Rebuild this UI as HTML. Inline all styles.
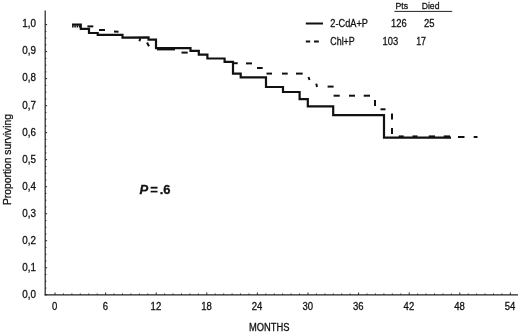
<!DOCTYPE html>
<html><head><meta charset="utf-8"><title>Survival</title>
<style>
html,body{margin:0;padding:0;background:#fff;}
svg{display:block;font-family:"Liberation Sans",Arial,sans-serif;fill:#111;}
text{stroke:#111;stroke-width:0.28px;}
</style></head><body>
<svg width="520" height="333" viewBox="0 0 520 333">
<rect width="520" height="333" fill="#fff"/>

<g stroke="#222" stroke-width="1.2" fill="none">
<line x1="45.2" y1="10.5" x2="45.2" y2="295.3"/>
<line x1="44.6" y1="294.8" x2="518" y2="294.8"/>
</g>
<g stroke="#222" stroke-width="1" fill="none">
<line x1="45.2" y1="294.80" x2="47.10" y2="294.80"/>
<line x1="45.2" y1="288.05" x2="46.40" y2="288.05"/>
<line x1="45.2" y1="281.29" x2="46.40" y2="281.29"/>
<line x1="45.2" y1="274.54" x2="46.40" y2="274.54"/>
<line x1="45.2" y1="267.78" x2="47.10" y2="267.78"/>
<line x1="45.2" y1="261.03" x2="46.40" y2="261.03"/>
<line x1="45.2" y1="254.27" x2="46.40" y2="254.27"/>
<line x1="45.2" y1="247.52" x2="46.40" y2="247.52"/>
<line x1="45.2" y1="240.76" x2="47.10" y2="240.76"/>
<line x1="45.2" y1="234.01" x2="46.40" y2="234.01"/>
<line x1="45.2" y1="227.25" x2="46.40" y2="227.25"/>
<line x1="45.2" y1="220.50" x2="46.40" y2="220.50"/>
<line x1="45.2" y1="213.74" x2="47.10" y2="213.74"/>
<line x1="45.2" y1="206.99" x2="46.40" y2="206.99"/>
<line x1="45.2" y1="200.23" x2="46.40" y2="200.23"/>
<line x1="45.2" y1="193.48" x2="46.40" y2="193.48"/>
<line x1="45.2" y1="186.72" x2="47.10" y2="186.72"/>
<line x1="45.2" y1="179.97" x2="46.40" y2="179.97"/>
<line x1="45.2" y1="173.21" x2="46.40" y2="173.21"/>
<line x1="45.2" y1="166.46" x2="46.40" y2="166.46"/>
<line x1="45.2" y1="159.70" x2="47.10" y2="159.70"/>
<line x1="45.2" y1="152.95" x2="46.40" y2="152.95"/>
<line x1="45.2" y1="146.19" x2="46.40" y2="146.19"/>
<line x1="45.2" y1="139.44" x2="46.40" y2="139.44"/>
<line x1="45.2" y1="132.68" x2="47.10" y2="132.68"/>
<line x1="45.2" y1="125.93" x2="46.40" y2="125.93"/>
<line x1="45.2" y1="119.17" x2="46.40" y2="119.17"/>
<line x1="45.2" y1="112.42" x2="46.40" y2="112.42"/>
<line x1="45.2" y1="105.66" x2="47.10" y2="105.66"/>
<line x1="45.2" y1="98.91" x2="46.40" y2="98.91"/>
<line x1="45.2" y1="92.15" x2="46.40" y2="92.15"/>
<line x1="45.2" y1="85.40" x2="46.40" y2="85.40"/>
<line x1="45.2" y1="78.64" x2="47.10" y2="78.64"/>
<line x1="45.2" y1="71.88" x2="46.40" y2="71.88"/>
<line x1="45.2" y1="65.13" x2="46.40" y2="65.13"/>
<line x1="45.2" y1="58.38" x2="46.40" y2="58.38"/>
<line x1="45.2" y1="51.62" x2="47.10" y2="51.62"/>
<line x1="45.2" y1="44.87" x2="46.40" y2="44.87"/>
<line x1="45.2" y1="38.11" x2="46.40" y2="38.11"/>
<line x1="45.2" y1="31.36" x2="46.40" y2="31.36"/>
<line x1="45.2" y1="24.60" x2="47.10" y2="24.60"/>
<line x1="55.00" y1="294.8" x2="55.00" y2="292.50"/>
<line x1="63.43" y1="294.8" x2="63.43" y2="293.50"/>
<line x1="71.87" y1="294.8" x2="71.87" y2="293.50"/>
<line x1="80.30" y1="294.8" x2="80.30" y2="293.50"/>
<line x1="88.73" y1="294.8" x2="88.73" y2="293.50"/>
<line x1="97.16" y1="294.8" x2="97.16" y2="293.50"/>
<line x1="105.60" y1="294.8" x2="105.60" y2="292.50"/>
<line x1="114.03" y1="294.8" x2="114.03" y2="293.50"/>
<line x1="122.46" y1="294.8" x2="122.46" y2="293.50"/>
<line x1="130.90" y1="294.8" x2="130.90" y2="293.50"/>
<line x1="139.33" y1="294.8" x2="139.33" y2="293.50"/>
<line x1="147.76" y1="294.8" x2="147.76" y2="293.50"/>
<line x1="156.20" y1="294.8" x2="156.20" y2="292.50"/>
<line x1="164.63" y1="294.8" x2="164.63" y2="293.50"/>
<line x1="173.06" y1="294.8" x2="173.06" y2="293.50"/>
<line x1="181.50" y1="294.8" x2="181.50" y2="293.50"/>
<line x1="189.93" y1="294.8" x2="189.93" y2="293.50"/>
<line x1="198.36" y1="294.8" x2="198.36" y2="293.50"/>
<line x1="206.79" y1="294.8" x2="206.79" y2="292.50"/>
<line x1="215.23" y1="294.8" x2="215.23" y2="293.50"/>
<line x1="223.66" y1="294.8" x2="223.66" y2="293.50"/>
<line x1="232.09" y1="294.8" x2="232.09" y2="293.50"/>
<line x1="240.53" y1="294.8" x2="240.53" y2="293.50"/>
<line x1="248.96" y1="294.8" x2="248.96" y2="293.50"/>
<line x1="257.39" y1="294.8" x2="257.39" y2="292.50"/>
<line x1="265.82" y1="294.8" x2="265.82" y2="293.50"/>
<line x1="274.26" y1="294.8" x2="274.26" y2="293.50"/>
<line x1="282.69" y1="294.8" x2="282.69" y2="293.50"/>
<line x1="291.12" y1="294.8" x2="291.12" y2="293.50"/>
<line x1="299.56" y1="294.8" x2="299.56" y2="293.50"/>
<line x1="307.99" y1="294.8" x2="307.99" y2="292.50"/>
<line x1="316.42" y1="294.8" x2="316.42" y2="293.50"/>
<line x1="324.86" y1="294.8" x2="324.86" y2="293.50"/>
<line x1="333.29" y1="294.8" x2="333.29" y2="293.50"/>
<line x1="341.72" y1="294.8" x2="341.72" y2="293.50"/>
<line x1="350.15" y1="294.8" x2="350.15" y2="293.50"/>
<line x1="358.59" y1="294.8" x2="358.59" y2="292.50"/>
<line x1="367.02" y1="294.8" x2="367.02" y2="293.50"/>
<line x1="375.45" y1="294.8" x2="375.45" y2="293.50"/>
<line x1="383.89" y1="294.8" x2="383.89" y2="293.50"/>
<line x1="392.32" y1="294.8" x2="392.32" y2="293.50"/>
<line x1="400.75" y1="294.8" x2="400.75" y2="293.50"/>
<line x1="409.19" y1="294.8" x2="409.19" y2="292.50"/>
<line x1="417.62" y1="294.8" x2="417.62" y2="293.50"/>
<line x1="426.05" y1="294.8" x2="426.05" y2="293.50"/>
<line x1="434.49" y1="294.8" x2="434.49" y2="293.50"/>
<line x1="442.92" y1="294.8" x2="442.92" y2="293.50"/>
<line x1="451.35" y1="294.8" x2="451.35" y2="293.50"/>
<line x1="459.78" y1="294.8" x2="459.78" y2="292.50"/>
<line x1="468.22" y1="294.8" x2="468.22" y2="293.50"/>
<line x1="476.65" y1="294.8" x2="476.65" y2="293.50"/>
<line x1="485.08" y1="294.8" x2="485.08" y2="293.50"/>
<line x1="493.52" y1="294.8" x2="493.52" y2="293.50"/>
<line x1="501.95" y1="294.8" x2="501.95" y2="293.50"/>
<line x1="510.38" y1="294.8" x2="510.38" y2="292.50"/>
</g>
<g font-size="10px" text-anchor="start">
<text x="22.3" y="297.6" textLength="13.7" lengthAdjust="spacingAndGlyphs">0,0</text>
<text x="22.3" y="270.6" textLength="13.7" lengthAdjust="spacingAndGlyphs">0,1</text>
<text x="22.3" y="243.6" textLength="13.7" lengthAdjust="spacingAndGlyphs">0,2</text>
<text x="22.3" y="216.5" textLength="13.7" lengthAdjust="spacingAndGlyphs">0,3</text>
<text x="22.3" y="189.5" textLength="13.7" lengthAdjust="spacingAndGlyphs">0,4</text>
<text x="22.3" y="162.5" textLength="13.7" lengthAdjust="spacingAndGlyphs">0,5</text>
<text x="22.3" y="135.5" textLength="13.7" lengthAdjust="spacingAndGlyphs">0,6</text>
<text x="22.3" y="108.5" textLength="13.7" lengthAdjust="spacingAndGlyphs">0,7</text>
<text x="22.3" y="81.4" textLength="13.7" lengthAdjust="spacingAndGlyphs">0,8</text>
<text x="22.3" y="54.4" textLength="13.7" lengthAdjust="spacingAndGlyphs">0,9</text>
<text x="22.3" y="27.4" textLength="13.7" lengthAdjust="spacingAndGlyphs">1,0</text>
</g>
<g font-size="10px" text-anchor="middle">
<text x="54.7" y="309.8" textLength="5.3" lengthAdjust="spacingAndGlyphs">0</text>
<text x="105.3" y="309.8" textLength="5.3" lengthAdjust="spacingAndGlyphs">6</text>
<text x="155.9" y="309.8" textLength="10.6" lengthAdjust="spacingAndGlyphs">12</text>
<text x="206.5" y="309.8" textLength="10.6" lengthAdjust="spacingAndGlyphs">18</text>
<text x="257.1" y="309.8" textLength="10.6" lengthAdjust="spacingAndGlyphs">24</text>
<text x="307.7" y="309.8" textLength="10.6" lengthAdjust="spacingAndGlyphs">30</text>
<text x="358.3" y="309.8" textLength="10.6" lengthAdjust="spacingAndGlyphs">36</text>
<text x="408.9" y="309.8" textLength="10.6" lengthAdjust="spacingAndGlyphs">42</text>
<text x="459.5" y="309.8" textLength="10.6" lengthAdjust="spacingAndGlyphs">48</text>
<text x="510.1" y="309.8" textLength="10.6" lengthAdjust="spacingAndGlyphs">54</text>
</g>
<text x="249" y="331.3" font-size="10px" textLength="40.5" lengthAdjust="spacingAndGlyphs">MONTHS</text>
<text transform="translate(11,205) rotate(-90)" font-size="10px" textLength="91" lengthAdjust="spacingAndGlyphs">Proportion surviving</text>
<text x="139.5" y="193.8" font-size="13px" font-weight="bold"><tspan font-style="italic">P</tspan><tspan dx="2">=</tspan><tspan dx="1.9">.6</tspan></text>
<g font-size="10px">
<text x="395.5" y="9" font-size="9.7px" textLength="12.6" lengthAdjust="spacingAndGlyphs">Pts</text>
<text x="421.7" y="9" font-size="9.7px" textLength="17.8" lengthAdjust="spacingAndGlyphs">Died</text>
<text x="330.3" y="27" textLength="37.6" lengthAdjust="spacingAndGlyphs">2-CdA+P</text>
<text x="330.3" y="45" textLength="24.4" lengthAdjust="spacingAndGlyphs">Chl+P</text>
<text x="391" y="27" textLength="15.6" lengthAdjust="spacingAndGlyphs">126</text>
<text x="424" y="27" textLength="10.5" lengthAdjust="spacingAndGlyphs">25</text>
<text x="382.6" y="45" textLength="15.6" lengthAdjust="spacingAndGlyphs">103</text>
<text x="416.2" y="45" textLength="9.8" lengthAdjust="spacingAndGlyphs">17</text>
</g>
<line x1="394.4" y1="11.4" x2="452.2" y2="11.4" stroke="#222" stroke-width="1"/>
<line x1="305.8" y1="23.5" x2="323" y2="23.5" stroke="#111" stroke-width="2"/>
<line x1="305.8" y1="41.5" x2="310.2" y2="41.5" stroke="#111" stroke-width="2"/>
<line x1="314" y1="41.5" x2="318.8" y2="41.5" stroke="#111" stroke-width="2"/>
<polyline fill="none" stroke="#111" stroke-width="2.2" stroke-linejoin="miter" points="72.0,24.6 80.8,24.6 80.8,28.8 89.0,28.8 89.0,33.0 97.7,33.0 97.7,34.8 122.5,34.8 122.5,37.6 148.5,37.4 148.5,39.7 156.0,39.7 156.0,48.2 190.5,48.2 190.5,50.8 198.8,50.8 198.8,54.6 207.4,54.6 207.4,58.5 224.6,58.5 224.6,61.8 233.0,61.8 233.0,73.6 240.7,73.6 240.7,77.4 266.0,77.4 266.0,87.0 283.0,87.0 283.0,92.0 299.6,92.0 299.6,99.2 307.8,99.2 307.8,106.4 333.2,106.4 333.2,115.1 384.0,115.1 384.0,137.6 451.0,137.6"/>
<line x1="72" y1="26.4" x2="80.5" y2="26.4" stroke="#111" stroke-width="2" stroke-dasharray="1.6 0.7"/>
<g stroke="#111" stroke-width="2" fill="none">
<line x1="87.4" y1="26.4" x2="93.3" y2="26.4"/>
<line x1="99.0" y1="30.0" x2="105.0" y2="30.0"/>
<line x1="114.0" y1="31.5" x2="118.5" y2="31.8"/>
<line x1="140.3" y1="38.3" x2="139.4" y2="41.3"/>
<line x1="147.0" y1="42.6" x2="149.0" y2="46.3"/>
<line x1="157.0" y1="49.4" x2="175.0" y2="49.4"/>
<line x1="181.5" y1="52.6" x2="187.7" y2="52.6"/>
<line x1="234.0" y1="63.2" x2="237.7" y2="63.2"/>
<line x1="246.0" y1="63.4" x2="252.0" y2="63.4"/>
<line x1="257.0" y1="68.0" x2="262.7" y2="68.0"/>
<line x1="266.5" y1="73.6" x2="272.0" y2="73.6"/>
<line x1="282.0" y1="73.6" x2="287.7" y2="73.6"/>
<line x1="296.0" y1="73.6" x2="302.7" y2="73.6"/>
<line x1="308.5" y1="77.0" x2="309.5" y2="80.0"/>
<line x1="316.3" y1="83.6" x2="317.0" y2="87.0"/>
<line x1="327.6" y1="86.6" x2="333.6" y2="86.6"/>
<line x1="333.6" y1="95.7" x2="339.7" y2="95.7"/>
<line x1="349.0" y1="95.7" x2="355.0" y2="95.7"/>
<line x1="363.7" y1="95.7" x2="370.0" y2="95.7"/>
<line x1="375.0" y1="100.0" x2="375.0" y2="106.0"/>
<line x1="380.5" y1="109.3" x2="385.5" y2="109.3"/>
<line x1="392.0" y1="113.5" x2="392.0" y2="119.5"/>
<line x1="392.0" y1="128.0" x2="392.0" y2="134.0"/>
<line x1="398.7" y1="136.4" x2="403.7" y2="136.4"/>
<line x1="412.5" y1="136.4" x2="417.5" y2="136.4"/>
<line x1="428.7" y1="136.4" x2="435.0" y2="136.4"/>
<line x1="443.7" y1="136.4" x2="450.0" y2="136.4"/>
<line x1="458.0" y1="137.0" x2="464.5" y2="137.0"/>
<line x1="473.7" y1="137.0" x2="477.5" y2="137.0"/>
</g>
</svg></body></html>
